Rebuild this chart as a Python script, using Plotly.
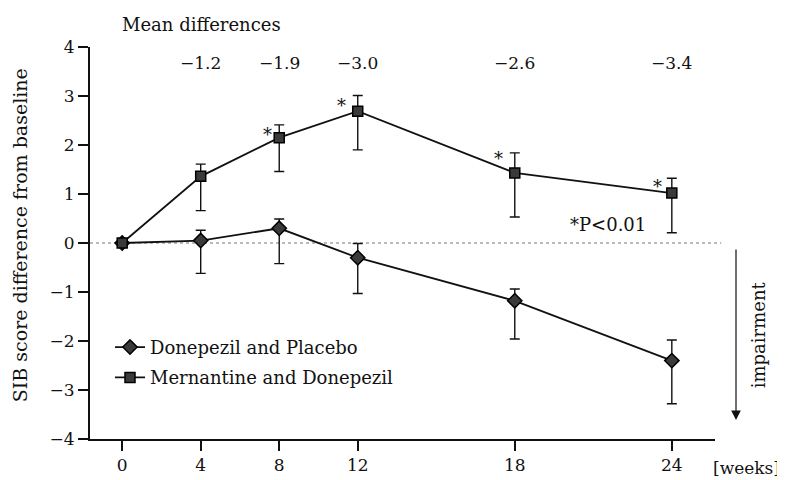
import plotly.graph_objects as go

# ---- data ----
weeks = [0, 4, 8, 12, 18, 24]
week_labels = ["0", "4", "8", "12", "18", "24"]

don_name = "Donepezil and Placebo"
don_mean = [0.0, 0.05, 0.30, -0.30, -1.18, -2.40]
don_upper = [None, 0.26, 0.49, -0.01, -0.94, -1.98]
don_lower = [None, -0.62, -0.42, -1.03, -1.96, -3.28]

mem_name = "Mernantine and Donepezil"
mem_mean = [0.0, 1.36, 2.15, 2.69, 1.43, 1.02]
mem_upper = [None, 1.61, 2.41, 3.01, 1.84, 1.32]
mem_lower = [None, 0.66, 1.46, 1.90, 0.53, 0.21]

diff_weeks = [4, 8, 12, 18, 24]
diff_labels = ["\u22121.2", "\u22121.9", "\u22123.0", "\u22122.6", "\u22123.4"]
signif_weeks = [8, 12, 18, 24]

y_ticks = [-4, -3, -2, -1, 0, 1, 2, 3, 4]


# piecewise time scale of the original figure: 4-week steps up to week 12,
# then the same spacing per 3 weeks
def tpos(w):
    return w / 4.0 if w <= 12 else 3.0 + (w - 12) / 3.0


xs = [tpos(w) for w in weeks]


def err(mean, upper, lower):
    plus = [None if u is None else u - m for m, u in zip(mean, upper)]
    minus = [None if l is None else m - l for m, l in zip(mean, lower)]
    return plus, minus


FONT = "DejaVu Serif"
INK = "#111111"

fig = go.Figure()

dp, dm = err(don_mean, don_upper, don_lower)
fig.add_trace(go.Scatter(
    x=xs, y=don_mean, name=don_name, mode="lines+markers",
    line=dict(color=INK, width=1.8),
    marker=dict(symbol="diamond", size=11, color="#3a3a3a",
                line=dict(color="#000", width=1.5)),
    error_y=dict(type="data", symmetric=False, array=dp, arrayminus=dm,
                 color=INK, thickness=1.4, width=5),
    legendgroup="a",
))

mp, mm = err(mem_mean, mem_upper, mem_lower)
fig.add_trace(go.Scatter(
    x=xs, y=mem_mean, name=mem_name, mode="lines+markers",
    line=dict(color=INK, width=1.8),
    marker=dict(symbol="square", size=10, color="#3a3a3a",
                line=dict(color="#000", width=1.5)),
    error_y=dict(type="data", symmetric=False, array=mp, arrayminus=mm,
                 color=INK, thickness=1.4, width=5),
    legendgroup="b",
))

annotations = []
# mean differences row
annotations.append(dict(text="Mean differences", xref="paper", yref="paper",
                        x=0.048, y=1.058, xanchor="left", yanchor="middle",
                        showarrow=False, font=dict(family=FONT, size=18, color=INK)))
for w, t in zip(diff_weeks, diff_labels):
    annotations.append(dict(text=t, x=tpos(w), y=3.67, xref="x", yref="y",
                            showarrow=False, xanchor="center", yanchor="middle",
                            font=dict(family=FONT, size=17, color=INK)))

# significance asterisks next to memantine points
ast_shift = {8: (-12, 3), 12: (-16, 6), 18: (-16, 14), 24: (-14, 7)}
for w in signif_weeks:
    i = weeks.index(w)
    dx, dy = ast_shift[w]
    annotations.append(dict(text="*", x=tpos(w), y=mem_mean[i], xref="x", yref="y",
                            xshift=dx, yshift=dy, showarrow=False,
                            font=dict(family=FONT, size=18, color=INK)))

annotations.append(dict(text="*P&lt;0.01", xref="paper", yref="paper",
                        x=0.765, y=0.548, xanchor="left", yanchor="middle",
                        showarrow=False, font=dict(family=FONT, size=18, color=INK)))

# y-axis title
annotations.append(dict(text="SIB score difference from baseline", xref="paper", yref="paper",
                        x=-0.112, y=0.52, textangle=-90, showarrow=False,
                        xanchor="center", yanchor="middle",
                        font=dict(family=FONT, size=19, color=INK)))
# x unit
annotations.append(dict(text="[weeks]", xref="paper", yref="paper",
                        x=1.05, y=-0.075, showarrow=False,
                        xanchor="center", yanchor="middle",
                        font=dict(family=FONT, size=17, color=INK)))
# impairment arrow
annotations.append(dict(text="", xref="paper", yref="paper", x=1.0336, y=0.0485,
                        ax=0, ay=-172, showarrow=True, arrowhead=2, arrowsize=1.6,
                        arrowwidth=1.2, arrowcolor=INK, standoff=0))
annotations.append(dict(text="impairment", xref="paper", yref="paper",
                        x=1.069, y=0.265, textangle=-90, showarrow=False,
                        xanchor="center", yanchor="middle",
                        font=dict(family=FONT, size=18, color=INK)))

# the page body adds an 8px offset, so the figure is 8px smaller than the window
fig.update_layout(
    width=777, height=472,
    margin=dict(l=82, r=70, t=39, b=41, autoexpand=False),
    paper_bgcolor="white", plot_bgcolor="white",
    font=dict(family=FONT, size=16, color=INK),
    showlegend=True,
    legend=dict(x=0.032, y=0.281, xanchor="left", yanchor="top",
                bgcolor="rgba(0,0,0,0)", font=dict(family=FONT, size=18, color=INK),
                traceorder="grouped", tracegroupgap=4, itemwidth=30),
    annotations=annotations,
    shapes=[dict(type="line", xref="paper", yref="y", x0=0, x1=1.01, y0=0, y1=0,
                 line=dict(color="#777", width=1, dash="dot"), layer="below")],
)

fig.update_xaxes(
    automargin=False,
    range=[tpos(0) - 0.41, tpos(24) + 0.55],
    tickmode="array", tickvals=xs, ticktext=week_labels,
    ticks="outside", ticklen=10, tickwidth=1.5, tickcolor=INK,
    showline=True, linewidth=2, linecolor=INK,
    showgrid=False, zeroline=False,
    tickfont=dict(family=FONT, size=17, color=INK),
)
fig.update_yaxes(
    automargin=False,
    range=[-4, 4], tickmode="array", tickvals=y_ticks,
    ticks="outside", ticklen=10, tickwidth=1.5, tickcolor=INK,
    showline=True, linewidth=2, linecolor=INK,
    showgrid=False, zeroline=False,
    tickfont=dict(family=FONT, size=17, color=INK),
)

fig.write_html("out.html")
